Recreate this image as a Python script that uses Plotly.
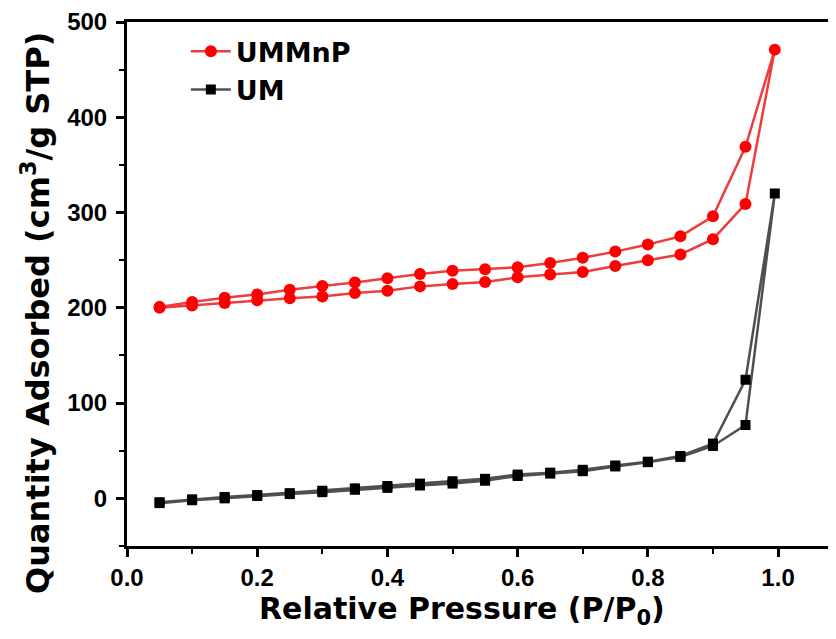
import plotly.graph_objects as go

# ---- data ----
pressure_ads = [0.05, 0.10, 0.15, 0.20, 0.25, 0.30, 0.35, 0.40, 0.45, 0.50,
                0.55, 0.60, 0.65, 0.70, 0.75, 0.80, 0.85, 0.90, 0.95, 0.995]
pressure_des = [0.95, 0.90, 0.85, 0.80, 0.75, 0.70, 0.65, 0.60, 0.55, 0.50,
                0.45, 0.40, 0.35, 0.30, 0.25, 0.20, 0.15, 0.10, 0.05]

ummnp_ads = [200, 202.5, 205, 208, 210, 212, 215.5, 218, 222.5, 225,
             227, 232, 235, 237.5, 244, 250, 256, 272, 309, 471]
ummnp_des = [369, 296, 275, 266.5, 259, 252.5, 247, 242.5, 240.5, 239,
             235.5, 231, 226.5, 223, 219, 214, 210.5, 206, 201]

um_ads = [-5, -2, 0, 2.5, 4.5, 6.5, 9, 11, 13.5, 15.5,
          18.5, 23.5, 26, 28.5, 33.5, 38, 43.5, 55, 77, 320]
um_des = [124.5, 57.5, 44.5, 38.5, 34.5, 30, 27, 25, 20.5, 18,
          15.5, 13, 10.5, 8, 5.5, 3.5, 1.5, -1, -4]

series_names = ["UMMnP", "UM"]

x_tickvals = [0.0, 0.2, 0.4, 0.6, 0.8, 1.0]
x_ticktext = ["0.0", "0.2", "0.4", "0.6", "0.8", "1.0"]
y_tickvals = [0, 100, 200, 300, 400, 500]

x_title = "Relative Pressure (P/P<sub>0</sub>)"
y_title = "Quantity Adsorbed (cm<sup>3</sup>/g STP)"

TITLE_FONT = "DejaVu Sans"
TICK_FONT = "Liberation Sans, Arial, sans-serif"

fig = go.Figure()

fig.add_trace(go.Scatter(
    x=pressure_ads + pressure_des,
    y=ummnp_ads + ummnp_des,
    mode="lines+markers",
    name=series_names[0],
    line=dict(color="rgba(235,40,40,0.9)", width=2.5),
    marker=dict(symbol="circle", size=12, color="#ff0000",
                line=dict(width=0)),
))

fig.add_trace(go.Scatter(
    x=pressure_ads + pressure_des,
    y=um_ads + um_des,
    mode="lines+markers",
    name=series_names[1],
    line=dict(color="rgba(60,60,60,0.9)", width=2.5),
    marker=dict(symbol="square", size=10, color="#000000",
                line=dict(width=0)),
))

# page body has an 8px margin, so the figure is 8px smaller than the window
fig.update_layout(
    width=828, height=631,
    margin=dict(l=119, r=0, t=14, b=93, autoexpand=False),
    paper_bgcolor="white",
    plot_bgcolor="white",
    showlegend=True,
    legend=dict(
        x=0.083, y=0.99, xanchor="left", yanchor="top",
        bgcolor="rgba(0,0,0,0)",
        font=dict(family=TITLE_FONT, size=27, color="black", weight="bold"),
        itemwidth=40,
        tracegroupgap=4,
    ),
    annotations=[
        dict(text=x_title, xref="paper", yref="paper",
             x=(462 - 127) / 709, y=-(610 - 546) / 524,
             xanchor="center", yanchor="middle", showarrow=False,
             font=dict(family=TITLE_FONT, size=30, color="black",
                       weight="bold")),
        dict(text=y_title, xref="paper", yref="paper",
             x=-(127 - 36) / 709, y=(546 - 313) / 524,
             xanchor="center", yanchor="middle", showarrow=False,
             textangle=-90,
             font=dict(family=TITLE_FONT, size=32, color="black",
                       weight="bold")),
    ],
)

fig.update_xaxes(
    range=[0, 1.089], automargin=False,
    tickvals=x_tickvals, ticktext=x_ticktext,
    showgrid=False, zeroline=False,
    showline=True, linecolor="black", linewidth=3, mirror=True,
    ticks="outside", ticklen=8, tickwidth=2.5, tickcolor="black",
    minor=dict(dtick=0.1, tick0=0, ticks="outside", ticklen=5,
               tickwidth=2, tickcolor="black"),
    tickfont=dict(family=TICK_FONT, size=24, color="black", weight="bold"),
)

fig.update_yaxes(
    range=[-50, 500], automargin=False,
    tickvals=y_tickvals,
    showgrid=False, zeroline=False,
    showline=True, linecolor="black", linewidth=3, mirror=False,
    ticks="outside", ticklen=8, tickwidth=2.5, tickcolor="black",
    minor=dict(dtick=50, tick0=0, ticks="outside", ticklen=5,
               tickwidth=2, tickcolor="black"),
    tickfont=dict(family=TICK_FONT, size=24, color="black", weight="bold"),
    ticklabelstandoff=4,
)

fig.write_html("out.html")
